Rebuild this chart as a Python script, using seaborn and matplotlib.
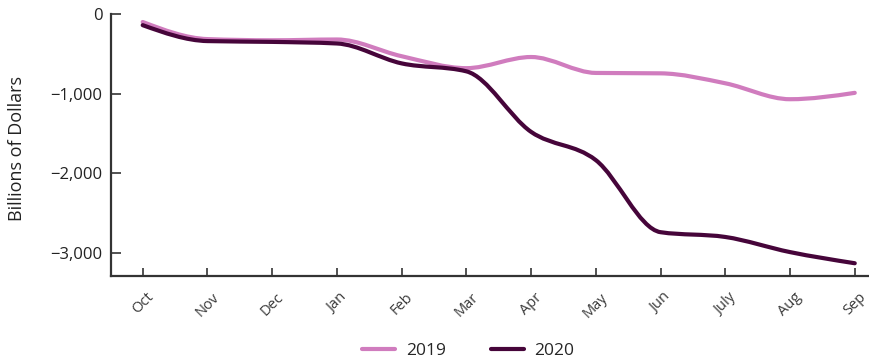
import numpy as np
import pandas as pd
import matplotlib
matplotlib.use("Agg")
import matplotlib.pyplot as plt
from matplotlib.path import Path
from matplotlib.patches import PathPatch
import seaborn as sns

months = ["Oct", "Nov", "Dec", "Jan", "Feb", "Mar", "Apr", "May", "Jun", "July", "Aug", "Sep"]
deficit_2019 = [-100, -315, -330, -320, -530, -680, -540, -740, -745, -870, -1070, -990]
deficit_2020 = [-140, -340, -350, -370, -620, -720, -1480, -1835, -2740, -2800, -2990, -3130]
years = ["2019", "2020"]
colors = {"2019": "#d07cbe", "2020": "#46053a"}

sns.set_theme(style="white")
plt.rcParams["font.family"] = ["Open Sans", "DejaVu Sans"]

df = pd.DataFrame({
    "idx": list(range(len(months))) * 2,
    "value": deficit_2019 + deficit_2020,
    "year": ["2019"] * len(months) + ["2020"] * len(months),
})

fig = plt.figure(figsize=(8.69, 3.64), dpi=100)
ax = fig.add_axes([0.1277, 0.2418, 0.8723, 0.7197])

sns.lineplot(data=df, x="idx", y="value", hue="year", palette=colors, linewidth=3, ax=ax, legend=False)


def monotone_path(x, y):
    x = np.asarray(x, float)
    y = np.asarray(y, float)
    n = len(x)
    h = np.diff(x)
    s = np.diff(y) / h
    t = np.zeros(n)
    for i in range(1, n - 1):
        s0, s1 = s[i - 1], s[i]
        p = (s0 * h[i] + s1 * h[i - 1]) / (h[i - 1] + h[i])
        t[i] = (np.sign(s0) + np.sign(s1)) * min(abs(s0), abs(s1), 0.5 * abs(p))
    t[0] = (3 * s[0] - t[1]) / 2
    t[-1] = (3 * s[-1] - t[-2]) / 2
    verts = [(x[0], y[0])]
    codes = [Path.MOVETO]
    for i in range(n - 1):
        d = h[i] / 3
        verts += [(x[i] + d, y[i] + d * t[i]), (x[i + 1] - d, y[i + 1] - d * t[i + 1]), (x[i + 1], y[i + 1])]
        codes += [Path.CURVE4] * 3
    return Path(verts, codes)


for line in list(ax.get_lines()):
    xd, yd = line.get_xdata(), line.get_ydata()
    col = line.get_color()
    line.set_visible(False)
    patch = PathPatch(monotone_path(xd, yd), facecolor="none", edgecolor=col, lw=3,
                      capstyle="round", joinstyle="round", zorder=3)
    ax.add_patch(patch)

ax.set_xlim(-0.49, 11.22)
ax.set_ylim(-3290, 0)
ax.set_xticks(range(len(months)))
ax.set_xticklabels(months, rotation=45, ha="center", fontsize=10.5, color="#3a3a3a")
ax.set_yticks([0, -1000, -2000, -3000])
ax.set_yticklabels(["0", "\u22121,000", "\u22122,000", "\u22123,000"], fontsize=12, color="#222222")
ax.set_xlabel("")
ax.set_ylabel("Billions of Dollars", fontsize=13, color="#222222", labelpad=18)
ax.yaxis.label.set_y(0.485)

for side in ["top", "right"]:
    ax.spines[side].set_visible(False)
for side in ["left", "bottom"]:
    ax.spines[side].set_color("#333333")
    ax.spines[side].set_linewidth(1.6)

ax.tick_params(axis="y", direction="in", length=7, width=1.2, color="#333333", pad=6, left=True)
ax.tick_params(axis="x", direction="in", length=6, width=1.2, color="#333333", pad=10, bottom=True)

handles = [plt.Line2D([0], [0], color=colors[y], lw=3) for y in years]
fig.legend(handles, years, loc="center", bbox_to_anchor=(0.539, 0.035), ncol=2, frameon=False,
           fontsize=12.5, handlelength=1.9, handletextpad=0.6, columnspacing=2.6)

fig.savefig("out.png", dpi=100)
